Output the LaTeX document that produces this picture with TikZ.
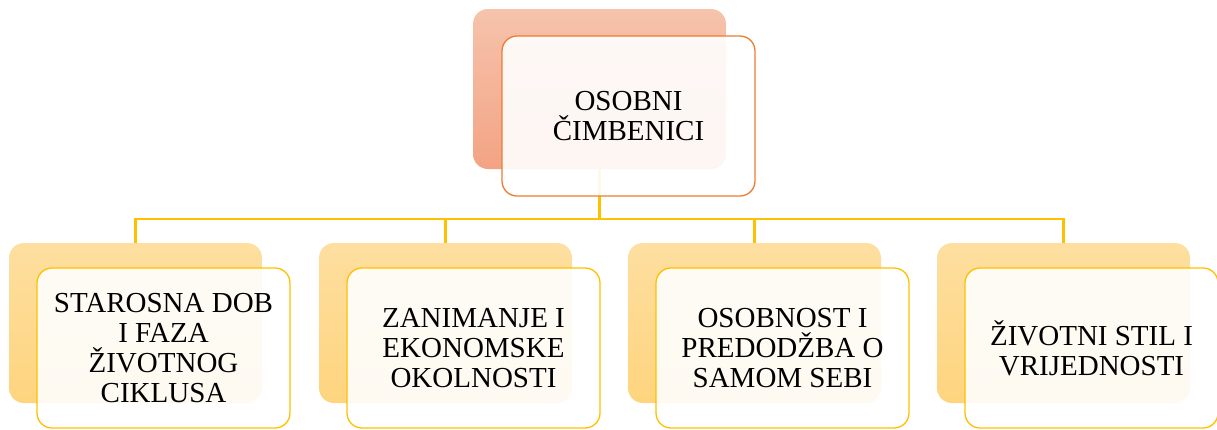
\documentclass[tikz,border=0pt]{standalone}
\usepackage{fontspec}
\setmainfont{Liberation Serif}
\definecolor{orgline}{HTML}{ED7D31}
\definecolor{yelline}{HTML}{FFC000}
\definecolor{salmtop}{HTML}{F6C3AC}
\definecolor{salmbot}{HTML}{F3A384}
\definecolor{yeltop}{HTML}{FEDFA0}
\definecolor{yelbot}{HTML}{FED47E}
\tikzset{
  backbox/.style={rounded corners=15pt, minimum width=253pt, minimum height=160pt, inner sep=0pt, draw=none},
  frontbox/.style={rounded corners=15pt, minimum width=253pt, minimum height=160pt, inner sep=0pt,
     fill=white, fill opacity=0.9, text opacity=1, line width=1.3pt, align=center,
     font=\fontsize{29}{30}\selectfont},
  conn/.style={draw=yelline, line width=2.3pt}
}
\begin{document}
\begin{tikzpicture}[x=1pt,y=-1pt]
\useasboundingbox (0,0) rectangle (1217,429);
% back boxes
\node[backbox, top color=salmtop, bottom color=salmbot] (tb) at (599.5,89) {};
\node[backbox, top color=yeltop, bottom color=yelbot] (b1) at (135.5,323) {};
\node[backbox, top color=yeltop, bottom color=yelbot] (b2) at (445.5,323) {};
\node[backbox, top color=yeltop, bottom color=yelbot] (b3) at (754.5,323) {};
\node[backbox, top color=yeltop, bottom color=yelbot] (b4) at (1063.5,323) {};
% connectors
\coordinate (hub) at (599.5,219);
\draw[conn] (tb.south) -- (hub);
\draw[conn] (hub) -| (b1.north);
\draw[conn] (hub) -| (b2.north);
\draw[conn] (hub) -| (b3.north);
\draw[conn] (hub) -| (b4.north);
% front boxes
\node[frontbox, draw=orgline] (tf) at (628.5,116) {OSOBNI\\ČIMBENICI};
\node[frontbox, draw=yelline] (f1) at (163.5,348) {STAROSNA DOB\\I FAZA\\ŽIVOTNOG\\CIKLUSA};
\node[frontbox, draw=yelline] (f2) at (473.5,348) {ZANIMANJE I\\EKONOMSKE\\OKOLNOSTI};
\node[frontbox, draw=yelline] (f3) at (782.5,348) {OSOBNOST I\\PREDODŽBA O\\SAMOM SEBI};
\node[frontbox, draw=yelline] (f4) at (1091.5,348) {ŽIVOTNI STIL I\\VRIJEDNOSTI};
\end{tikzpicture}
\end{document}
